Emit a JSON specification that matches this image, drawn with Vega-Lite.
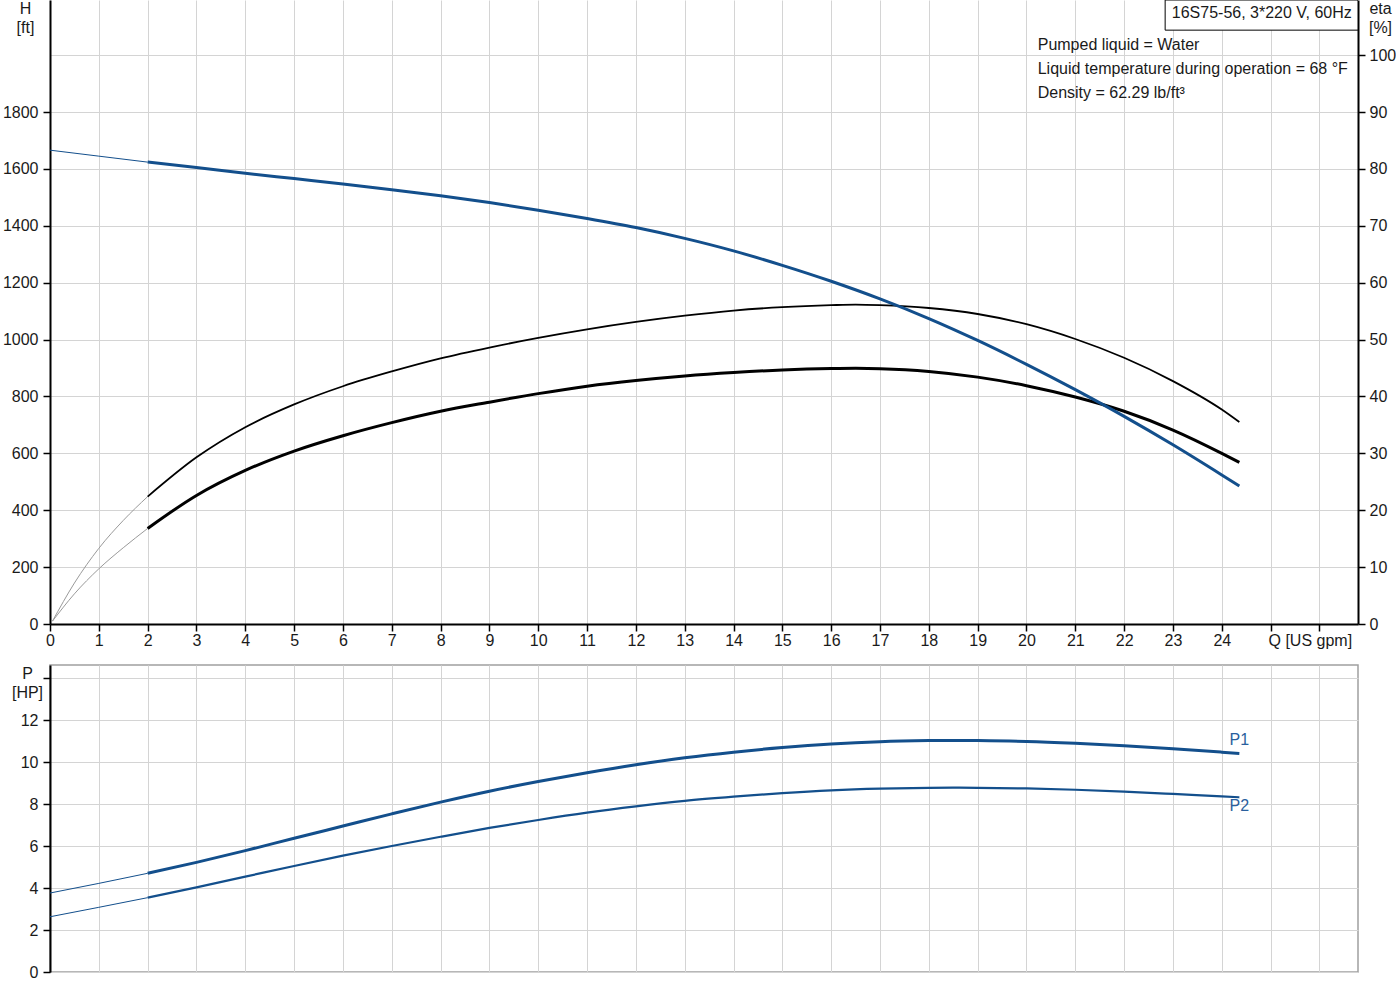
{
  "$schema": "https://vega.github.io/schema/vega-lite/v6.json",
  "padding": {"left": 2, "top": 0, "right": 0, "bottom": 0},
  "autosize": {"type": "pad"},
  "bounds": "flush",
  "spacing": 41,
  "background": "white",
  "datasets": {
    "head": [
      {"seg": "ext", "Q": 0, "H": 1666}, {"seg": "ext", "Q": 1, "H": 1645}, {"seg": "ext", "Q": 2, "H": 1624},
      {"seg": "main", "Q": 2, "H": 1624}, {"seg": "main", "Q": 3, "H": 1605}, {"seg": "main", "Q": 4, "H": 1585},
      {"seg": "main", "Q": 5, "H": 1566}, {"seg": "main", "Q": 6, "H": 1547}, {"seg": "main", "Q": 7, "H": 1527},
      {"seg": "main", "Q": 8, "H": 1506}, {"seg": "main", "Q": 9, "H": 1482}, {"seg": "main", "Q": 10, "H": 1455},
      {"seg": "main", "Q": 11, "H": 1426}, {"seg": "main", "Q": 12, "H": 1394}, {"seg": "main", "Q": 13, "H": 1356},
      {"seg": "main", "Q": 14, "H": 1312}, {"seg": "main", "Q": 15, "H": 1261}, {"seg": "main", "Q": 16, "H": 1205},
      {"seg": "main", "Q": 17, "H": 1143}, {"seg": "main", "Q": 18, "H": 1074}, {"seg": "main", "Q": 19, "H": 997},
      {"seg": "main", "Q": 20, "H": 913}, {"seg": "main", "Q": 21, "H": 824}, {"seg": "main", "Q": 22, "H": 730},
      {"seg": "main", "Q": 23, "H": 630}, {"seg": "main", "Q": 24, "H": 524}, {"seg": "main", "Q": 24.36, "H": 485}
    ],
    "eff": [
      {"curve": "eta1", "seg": "ext", "Q": 0.05, "eta": 0.5}, {"curve": "eta1", "seg": "ext", "Q": 0.5, "eta": 7.2},
      {"curve": "eta1", "seg": "ext", "Q": 1, "eta": 13.3}, {"curve": "eta1", "seg": "ext", "Q": 1.5, "eta": 18.2},
      {"curve": "eta1", "seg": "ext", "Q": 2, "eta": 22.4},
      {"curve": "eta2", "seg": "ext", "Q": 0.05, "eta": 0.5}, {"curve": "eta2", "seg": "ext", "Q": 0.5, "eta": 5.3},
      {"curve": "eta2", "seg": "ext", "Q": 1, "eta": 9.7}, {"curve": "eta2", "seg": "ext", "Q": 1.5, "eta": 13.4},
      {"curve": "eta2", "seg": "ext", "Q": 2, "eta": 16.8},
      {"curve": "eta1", "seg": "main", "Q": 2, "eta": 22.4}, {"curve": "eta1", "seg": "main", "Q": 3, "eta": 29.3},
      {"curve": "eta1", "seg": "main", "Q": 4, "eta": 34.6}, {"curve": "eta1", "seg": "main", "Q": 5, "eta": 38.6},
      {"curve": "eta1", "seg": "main", "Q": 6, "eta": 41.8}, {"curve": "eta1", "seg": "main", "Q": 7, "eta": 44.4},
      {"curve": "eta1", "seg": "main", "Q": 8, "eta": 46.7}, {"curve": "eta1", "seg": "main", "Q": 9, "eta": 48.6},
      {"curve": "eta1", "seg": "main", "Q": 10, "eta": 50.3}, {"curve": "eta1", "seg": "main", "Q": 11, "eta": 51.8},
      {"curve": "eta1", "seg": "main", "Q": 12, "eta": 53.1}, {"curve": "eta1", "seg": "main", "Q": 13, "eta": 54.2},
      {"curve": "eta1", "seg": "main", "Q": 14, "eta": 55.1}, {"curve": "eta1", "seg": "main", "Q": 15, "eta": 55.7},
      {"curve": "eta1", "seg": "main", "Q": 16, "eta": 56.05}, {"curve": "eta1", "seg": "main", "Q": 16.5, "eta": 56.15},
      {"curve": "eta1", "seg": "main", "Q": 17, "eta": 56.05},
      {"curve": "eta1", "seg": "main", "Q": 18, "eta": 55.55}, {"curve": "eta1", "seg": "main", "Q": 19, "eta": 54.5},
      {"curve": "eta1", "seg": "main", "Q": 20, "eta": 52.7}, {"curve": "eta1", "seg": "main", "Q": 21, "eta": 50.1},
      {"curve": "eta1", "seg": "main", "Q": 22, "eta": 46.8}, {"curve": "eta1", "seg": "main", "Q": 23, "eta": 42.7},
      {"curve": "eta1", "seg": "main", "Q": 24, "eta": 37.7}, {"curve": "eta1", "seg": "main", "Q": 24.36, "eta": 35.5},
      {"curve": "eta2", "seg": "main", "Q": 2, "eta": 16.8}, {"curve": "eta2", "seg": "main", "Q": 3, "eta": 22.6},
      {"curve": "eta2", "seg": "main", "Q": 4, "eta": 27.0}, {"curve": "eta2", "seg": "main", "Q": 5, "eta": 30.4},
      {"curve": "eta2", "seg": "main", "Q": 6, "eta": 33.1}, {"curve": "eta2", "seg": "main", "Q": 7, "eta": 35.4},
      {"curve": "eta2", "seg": "main", "Q": 8, "eta": 37.4}, {"curve": "eta2", "seg": "main", "Q": 9, "eta": 39.0},
      {"curve": "eta2", "seg": "main", "Q": 10, "eta": 40.5}, {"curve": "eta2", "seg": "main", "Q": 11, "eta": 41.8},
      {"curve": "eta2", "seg": "main", "Q": 12, "eta": 42.8}, {"curve": "eta2", "seg": "main", "Q": 13, "eta": 43.6},
      {"curve": "eta2", "seg": "main", "Q": 14, "eta": 44.2}, {"curve": "eta2", "seg": "main", "Q": 15, "eta": 44.65},
      {"curve": "eta2", "seg": "main", "Q": 16, "eta": 44.9}, {"curve": "eta2", "seg": "main", "Q": 16.5, "eta": 44.95},
      {"curve": "eta2", "seg": "main", "Q": 17, "eta": 44.88},
      {"curve": "eta2", "seg": "main", "Q": 18, "eta": 44.4}, {"curve": "eta2", "seg": "main", "Q": 19, "eta": 43.4},
      {"curve": "eta2", "seg": "main", "Q": 20, "eta": 41.9}, {"curve": "eta2", "seg": "main", "Q": 21, "eta": 39.9},
      {"curve": "eta2", "seg": "main", "Q": 22, "eta": 37.4}, {"curve": "eta2", "seg": "main", "Q": 23, "eta": 34.1},
      {"curve": "eta2", "seg": "main", "Q": 24, "eta": 30.0}, {"curve": "eta2", "seg": "main", "Q": 24.36, "eta": 28.4}
    ],
    "power": [
      {"curve": "P1", "seg": "ext", "Q": 0, "P": 3.76}, {"curve": "P1", "seg": "ext", "Q": 1, "P": 4.22}, {"curve": "P1", "seg": "ext", "Q": 2, "P": 4.70},
      {"curve": "P2", "seg": "ext", "Q": 0, "P": 2.63}, {"curve": "P2", "seg": "ext", "Q": 1, "P": 3.08}, {"curve": "P2", "seg": "ext", "Q": 2, "P": 3.54},
      {"curve": "P1", "seg": "main", "Q": 2, "P": 4.70}, {"curve": "P1", "seg": "main", "Q": 3, "P": 5.22},
      {"curve": "P1", "seg": "main", "Q": 4, "P": 5.78}, {"curve": "P1", "seg": "main", "Q": 5, "P": 6.37},
      {"curve": "P1", "seg": "main", "Q": 6, "P": 6.95}, {"curve": "P1", "seg": "main", "Q": 7, "P": 7.53},
      {"curve": "P1", "seg": "main", "Q": 8, "P": 8.09}, {"curve": "P1", "seg": "main", "Q": 9, "P": 8.61},
      {"curve": "P1", "seg": "main", "Q": 10, "P": 9.07}, {"curve": "P1", "seg": "main", "Q": 11, "P": 9.49},
      {"curve": "P1", "seg": "main", "Q": 12, "P": 9.87}, {"curve": "P1", "seg": "main", "Q": 13, "P": 10.20},
      {"curve": "P1", "seg": "main", "Q": 14, "P": 10.47}, {"curve": "P1", "seg": "main", "Q": 15, "P": 10.69},
      {"curve": "P1", "seg": "main", "Q": 16, "P": 10.86}, {"curve": "P1", "seg": "main", "Q": 17, "P": 10.97},
      {"curve": "P1", "seg": "main", "Q": 18, "P": 11.02}, {"curve": "P1", "seg": "main", "Q": 18.5, "P": 11.03},
      {"curve": "P1", "seg": "main", "Q": 19, "P": 11.02},
      {"curve": "P1", "seg": "main", "Q": 20, "P": 10.98}, {"curve": "P1", "seg": "main", "Q": 21, "P": 10.89},
      {"curve": "P1", "seg": "main", "Q": 22, "P": 10.77}, {"curve": "P1", "seg": "main", "Q": 23, "P": 10.63},
      {"curve": "P1", "seg": "main", "Q": 24, "P": 10.47}, {"curve": "P1", "seg": "main", "Q": 24.36, "P": 10.41},
      {"curve": "P2", "seg": "main", "Q": 2, "P": 3.54}, {"curve": "P2", "seg": "main", "Q": 3, "P": 4.03},
      {"curve": "P2", "seg": "main", "Q": 4, "P": 4.54}, {"curve": "P2", "seg": "main", "Q": 5, "P": 5.05},
      {"curve": "P2", "seg": "main", "Q": 6, "P": 5.54}, {"curve": "P2", "seg": "main", "Q": 7, "P": 6.00},
      {"curve": "P2", "seg": "main", "Q": 8, "P": 6.44}, {"curve": "P2", "seg": "main", "Q": 9, "P": 6.86},
      {"curve": "P2", "seg": "main", "Q": 10, "P": 7.24}, {"curve": "P2", "seg": "main", "Q": 11, "P": 7.59},
      {"curve": "P2", "seg": "main", "Q": 12, "P": 7.89}, {"curve": "P2", "seg": "main", "Q": 13, "P": 8.15},
      {"curve": "P2", "seg": "main", "Q": 14, "P": 8.35}, {"curve": "P2", "seg": "main", "Q": 15, "P": 8.52},
      {"curve": "P2", "seg": "main", "Q": 16, "P": 8.65}, {"curve": "P2", "seg": "main", "Q": 17, "P": 8.73},
      {"curve": "P2", "seg": "main", "Q": 18, "P": 8.77}, {"curve": "P2", "seg": "main", "Q": 18.5, "P": 8.78},
      {"curve": "P2", "seg": "main", "Q": 19, "P": 8.77},
      {"curve": "P2", "seg": "main", "Q": 20, "P": 8.74}, {"curve": "P2", "seg": "main", "Q": 21, "P": 8.68},
      {"curve": "P2", "seg": "main", "Q": 22, "P": 8.59}, {"curve": "P2", "seg": "main", "Q": 23, "P": 8.48},
      {"curve": "P2", "seg": "main", "Q": 24, "P": 8.36}, {"curve": "P2", "seg": "main", "Q": 24.36, "P": 8.32}
    ]
  },
  "vconcat": [
    {
      "width": 1308,
      "height": 624,
      "view": {"stroke": null},
      "layer": [
        {
          "data": {"name": "eff"},
          "encoding": {
            "x": {"field": "Q", "type": "quantitative", "scale": {"domain": [0, 26.79], "nice": false, "zero": false},
              "axis": {"values": [0,1,2,3,4,5,6,7,8,9,10,11,12,13,14,15,16,17,18,19,20,21,22,23,24,25,26],
                "labelExpr": "datum.value <= 24 ? datum.label : ''", "grid": true, "labelPadding": 1, "labelFlush": false, "labelOverlap": false,
                "title": "Q [US gpm]", "titleX": 1218, "titleY": 8, "titleAlign": "left", "titleBaseline": "top", "titleAngle": 0}},
            "y": {"field": "eta", "type": "quantitative", "scale": {"domain": [0, 109.7], "nice": false, "zero": false},
              "axis": {"orient": "right", "values": [0,10,20,30,40,50,60,70,80,90,100], "format": "d", "grid": true, "labelPadding": 4,
                "title": ["eta", "[%]"], "titleAngle": 0, "titleAlign": "center", "titleBaseline": "top", "titleX": 22, "titleY": 0, "titleLineHeight": 19}}
          },
          "layer": [
            {"transform": [{"filter": "datum.seg == 'ext'"}], "mark": {"type": "line", "color": "#9a9a9a", "strokeWidth": 1, "interpolate": "monotone"}, "encoding": {"detail": {"field": "curve"}}},
            {"transform": [{"filter": "datum.seg == 'main' && datum.curve == 'eta1'"}], "mark": {"type": "line", "color": "#000000", "strokeWidth": 1.8, "interpolate": "monotone"}},
            {"transform": [{"filter": "datum.seg == 'main' && datum.curve == 'eta2'"}], "mark": {"type": "line", "color": "#000000", "strokeWidth": 3, "interpolate": "monotone"}}
          ]
        },
        {
          "data": {"name": "head"},
          "encoding": {
            "x": {"field": "Q", "type": "quantitative", "scale": {"domain": [0, 26.79], "nice": false, "zero": false}},
            "y": {"field": "H", "type": "quantitative", "scale": {"domain": [0, 2194], "nice": false, "zero": false},
              "axis": {"orient": "left", "values": [0,200,400,600,800,1000,1200,1400,1600,1800], "format": "d", "grid": false, "labelPadding": 5,
                "title": ["H", "[ft]"], "titleAngle": 0, "titleAlign": "center", "titleBaseline": "top", "titleX": -25, "titleY": 0, "titleLineHeight": 19}}
          },
          "layer": [
            {"transform": [{"filter": "datum.seg == 'ext'"}], "mark": {"type": "line", "color": "#134f8c", "strokeWidth": 1, "interpolate": "monotone"}},
            {"transform": [{"filter": "datum.seg == 'main'"}], "mark": {"type": "line", "color": "#134f8c", "strokeWidth": 3, "interpolate": "monotone"}},
            {"transform": [{"filter": "datum.seg == 'ext' && datum.Q == 0"}], "mark": {"type": "rect", "fill": "white", "stroke": "#000000", "strokeWidth": 1, "clip": true},
              "encoding": {"x": {"datum": 22.84, "type": "quantitative"}, "x2": {"datum": 26.79}, "y": {"datum": 2088, "type": "quantitative"}, "y2": {"datum": 2194}}},
            {"transform": [{"filter": "datum.seg == 'ext' && datum.Q == 0"}], "mark": {"type": "text", "align": "center", "baseline": "middle", "fontSize": 16, "color": "#1a1a1a"},
              "encoding": {"x": {"datum": 24.82, "type": "quantitative"}, "y": {"datum": 2150, "type": "quantitative"}, "text": {"value": "16S75-56, 3*220 V, 60Hz"}}},
            {"transform": [{"filter": "datum.seg == 'ext' && datum.Q == 0"}], "mark": {"type": "text", "align": "left", "baseline": "middle", "fontSize": 16, "lineHeight": 24, "color": "#1a1a1a"},
              "encoding": {"x": {"datum": 20.23, "type": "quantitative"}, "y": {"datum": 2036, "type": "quantitative"}, "text": {"value": ["Pumped liquid = Water", "Liquid temperature during operation = 68 °F", "Density = 62.29 lb/ft³"]}}}
          ]
        }
      ],
      "resolve": {"scale": {"y": "independent"}}
    },
    {
      "width": 1308,
      "height": 307,
      "view": {"stroke": "#a0a0a0", "strokeWidth": 1.5},
      "data": {"name": "power"},
      "encoding": {
        "x": {"field": "Q", "type": "quantitative", "scale": {"domain": [0, 26.79], "nice": false, "zero": false},
          "axis": {"values": [1,2,3,4,5,6,7,8,9,10,11,12,13,14,15,16,17,18,19,20,21,22,23,24,25,26], "grid": true, "labels": false, "ticks": false, "domain": false, "title": null}},
        "y": {"field": "P", "type": "quantitative", "scale": {"domain": [0, 14.62], "nice": false, "zero": false},
          "axis": {"values": [0,2,4,6,8,10,12,14], "labelExpr": "datum.value < 14 ? datum.label : ''", "grid": true, "labelPadding": 5,
            "title": ["P", "[HP]"], "titleAngle": 0, "titleAlign": "center", "titleBaseline": "top", "titleX": -23, "titleY": 0, "titleLineHeight": 19}}
      },
      "layer": [
        {"transform": [{"filter": "datum.seg == 'ext'"}], "mark": {"type": "line", "color": "#134f8c", "strokeWidth": 1, "interpolate": "monotone"}, "encoding": {"detail": {"field": "curve"}}},
        {"transform": [{"filter": "datum.seg == 'main' && datum.curve == 'P1'"}], "mark": {"type": "line", "color": "#134f8c", "strokeWidth": 3, "interpolate": "monotone"}},
        {"transform": [{"filter": "datum.seg == 'main' && datum.curve == 'P2'"}], "mark": {"type": "line", "color": "#134f8c", "strokeWidth": 2.2, "interpolate": "monotone"}},
        {"transform": [{"filter": "datum.seg == 'main' && datum.curve == 'P1' && datum.Q == 24.36"}], "mark": {"type": "text", "align": "center", "baseline": "middle", "dy": -13, "fontSize": 16, "color": "#2a5f9e"}, "encoding": {"text": {"field": "curve"}}},
        {"transform": [{"filter": "datum.seg == 'main' && datum.curve == 'P2' && datum.Q == 24.36"}], "mark": {"type": "text", "align": "center", "baseline": "middle", "dy": 9, "fontSize": 16, "color": "#2a5f9e"}, "encoding": {"text": {"field": "curve"}}}
      ]
    }
  ],
  "config": {
    "font": "Liberation Sans",
    "view": {"stroke": null},
    "axis": {
      "labelFont": "Liberation Sans", "labelFontSize": 16, "labelColor": "#1a1a1a",
      "titleFont": "Liberation Sans", "titleFontSize": 16, "titleFontWeight": "normal", "titleColor": "#1a1a1a",
      "domainColor": "#000000", "domainWidth": 2, "tickColor": "#000000", "tickWidth": 1.5, "tickSize": 7,
      "gridColor": "#d4d4d4", "gridWidth": 1, "gridOpacity": 1
    }
  }
}
